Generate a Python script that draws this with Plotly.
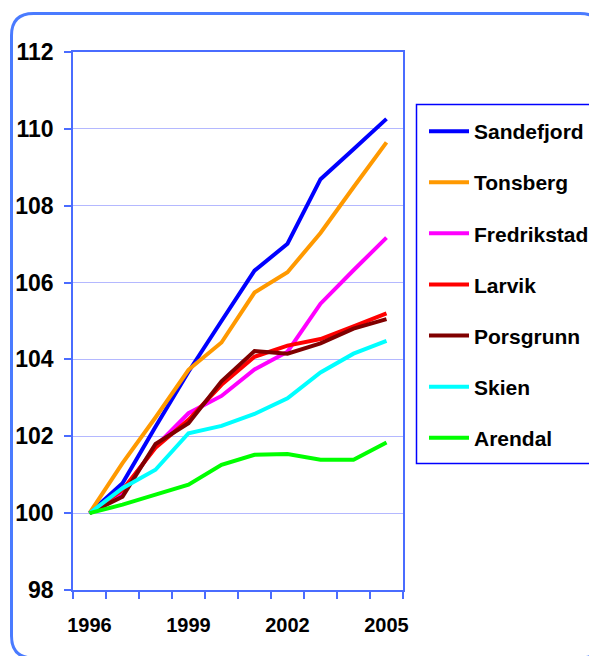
import plotly.graph_objects as go

years = [1996, 1997, 1998, 1999, 2000, 2001, 2002, 2003, 2004, 2005]
sandefjord = [100, 100.78, 102.25, 103.68, 105.0, 106.31, 107.01, 108.69, 109.47, 110.26]
tonsberg = [100, 101.30, 102.49, 103.73, 104.44, 105.74, 106.27, 107.29, 108.48, 109.65]
fredrikstad = [100, 100.55, 101.73, 102.60, 103.05, 103.74, 104.20, 105.45, 106.32, 107.17]
larvik = [100, 100.60, 101.70, 102.43, 103.34, 104.07, 104.36, 104.53, 104.86, 105.20]
porsgrunn = [100, 100.43, 101.80, 102.34, 103.43, 104.22, 104.15, 104.42, 104.80, 105.05]
skien = [100, 100.65, 101.13, 102.08, 102.27, 102.58, 102.99, 103.66, 104.15, 104.48]
arendal = [100, 100.22, 100.48, 100.74, 101.26, 101.52, 101.54, 101.39, 101.39, 101.84]

series = [
    ("Sandefjord", sandefjord, "#0000FF"),
    ("Tonsberg", tonsberg, "#FF9900"),
    ("Fredrikstad", fredrikstad, "#FF00FF"),
    ("Larvik", larvik, "#FF0000"),
    ("Porsgrunn", porsgrunn, "#800000"),
    ("Skien", skien, "#00FFFF"),
    ("Arendal", arendal, "#00FF00"),
]
x_tick_labels = ["1996", "1999", "2002", "2005"]
x_tick_vals = [1996, 1999, 2002, 2005]

AXIS = "#4A6CFF"
GRID = "#B4B8FF"
FONT = "Liberation Sans, Arial, sans-serif"

OFF = 8  # page body margin
W, H = 597 - OFF, 656 - OFF
L, R, T, B = 73 - OFF, 403 - OFF, 52 - OFF, 590 - OFF

fig = go.Figure()
for name, vals, col in series:
    fig.add_trace(go.Scatter(
        x=years, y=vals, name=name, mode="lines", legendgroup=name,
        line=dict(color=col, width=4),
    ))

def P(px, py):
    px -= OFF
    py -= OFF
    a, b = (px - L) / (R - L), (B - py) / (B - T)
    return f"{a:.5f},{b:.5f}"

# rounded outer border (reference pixel coords; right and bottom edges run off the page)
x0, y0, x1, y1, r = 11.5, 13.5, 602, 658, 22
path = (f"M {P(x0 + r, y0)} L {P(x1 - r, y0)} Q {P(x1, y0)} {P(x1, y0 + r)} "
        f"L {P(x1, y1 - r)} Q {P(x1, y1)} {P(x1 - r, y1)} "
        f"L {P(x0 + r, y1)} Q {P(x0, y1)} {P(x0, y1 - r)} "
        f"L {P(x0, y0 + r)} Q {P(x0, y0)} {P(x0 + r, y0)} Z")
fig.add_shape(type="path", xref="paper", yref="paper", path=path,
              line=dict(color="#4A7BFF", width=3), layer="below")

# legend frame (reference pixel coords)
lx0, ly0, lx1, ly1 = 416.5, 104.5, 592.5, 463.5
a0, b1 = [float(v) for v in P(lx0, ly0).split(",")]
a1, b0 = [float(v) for v in P(lx1, ly1).split(",")]
fig.add_shape(type="rect", xref="paper", yref="paper", x0=a0, x1=a1, y0=b0, y1=b1,
              line=dict(color="#0000FF", width=1.5), fillcolor="white", layer="below")

lgx, lgy = [float(v) for v in P(424, 111).split(",")]

fig.update_layout(
    width=W, height=H,
    margin=dict(l=L, r=W - R, t=T, b=H - B, pad=0, autoexpand=False),
    paper_bgcolor="white", plot_bgcolor="white",
    font=dict(family=FONT, color="black"),
    showlegend=True,
    legend=dict(
        x=lgx, y=lgy,
        xanchor="left", yanchor="top",
        borderwidth=0, bgcolor="rgba(0,0,0,0)",
        font=dict(family=FONT, size=21, color="black", weight="bold"),
        tracegroupgap=20.8, itemwidth=40,
    ),
    xaxis=dict(
        range=[1995.5, 2005.5], tickmode="array", tickvals=x_tick_vals, ticktext=x_tick_labels,
        ticks="", showgrid=False, showline=True, linecolor=AXIS, linewidth=1.5, mirror=True,
        tickfont=dict(family=FONT, size=20, color="black", weight="bold"),
        ticklabelstandoff=16, zeroline=False,
        minor=dict(tick0=1995.5, dtick=1, ticks="outside", ticklen=7, tickcolor=AXIS, tickwidth=1.5, showgrid=False),
    ),
    yaxis=dict(
        range=[98, 112], dtick=2, tick0=98, ticks="outside", ticklen=7, tickcolor=AXIS, tickwidth=1.5,
        showgrid=True, gridcolor=GRID, gridwidth=1,
        showline=True, linecolor=AXIS, linewidth=1.5, mirror=True, zeroline=False,
        tickfont=dict(family=FONT, size=23, color="black", weight="bold"),
        ticklabelstandoff=6,
    ),
)

fig.write_html("out.html")
